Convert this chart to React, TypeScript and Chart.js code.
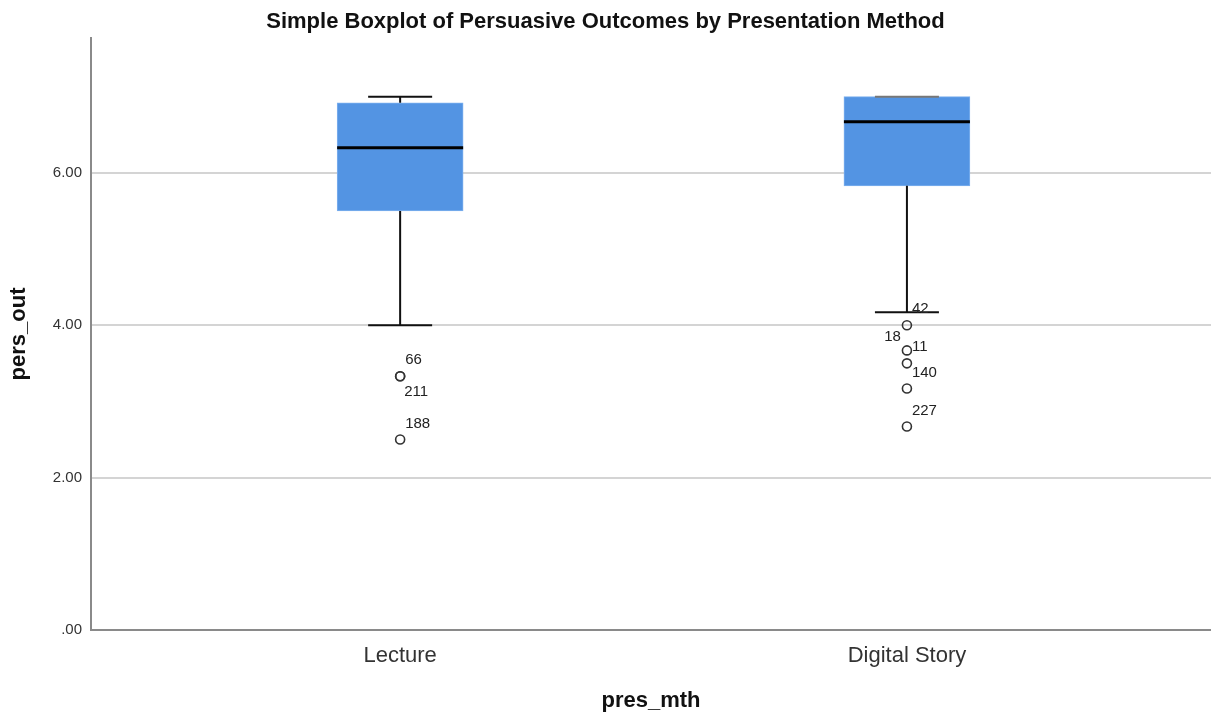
import React, { useEffect, useRef } from "react";
import Chart from "chart.js/auto";

// ---- data ----
const categories = ["Lecture", "Digital Story"];
const q1Values = [5.5, 5.83];
const q3Values = [6.92, 7.0];
const medianValues = [6.33, 6.67];
const whiskerLow = [4.0, 4.17];
const whiskerHigh = [7.0, 7.0];

const outlierCategory = [0, 0, 0, 1, 1, 1, 1, 1];
const outlierValues = [3.33, 3.33, 2.5, 4.0, 3.67, 3.5, 3.17, 2.67];
const outlierIds = ["66", "211", "188", "42", "18", "11", "140", "227"];
const outlierLabelSide = ["above", "below", "above", "above", "left", "above", "above", "above"];

const yTicks = [0, 2, 4, 6];
const yMax = 7.77;
const xMin = -0.61;
const xMax = 1.6;

const FONT = 'Arial, "Liberation Sans", sans-serif';
const BOX_PX = 126;

const boxPlugin = {
  id: "boxWhiskers",
  afterDatasetsDraw(chart: any) {
    const { ctx } = chart;
    const xs = chart.scales.x;
    const ys = chart.scales.y;
    ctx.save();
    categories.forEach((_, i) => {
      const cx = xs.getPixelForValue(i);
      const half = BOX_PX / 2;
      const capHalf = 32;
      const yQ1 = ys.getPixelForValue(q1Values[i]);
      const yQ3 = ys.getPixelForValue(q3Values[i]);
      const yLo = ys.getPixelForValue(whiskerLow[i]);
      const yHi = ys.getPixelForValue(whiskerHigh[i]);
      const yMed = ys.getPixelForValue(medianValues[i]);
      ctx.strokeStyle = "#111";
      ctx.lineWidth = 2;
      ctx.beginPath();
      ctx.moveTo(cx, yQ1);
      ctx.lineTo(cx, yLo);
      ctx.moveTo(cx - capHalf, yLo);
      ctx.lineTo(cx + capHalf, yLo);
      if (yHi < yQ3 - 0.5) {
        ctx.moveTo(cx, yQ3);
        ctx.lineTo(cx, yHi);
      }
      ctx.stroke();
      ctx.strokeStyle = yHi < yQ3 - 0.5 ? "#111" : "#777";
      ctx.beginPath();
      ctx.moveTo(cx - capHalf, yHi);
      ctx.lineTo(cx + capHalf, yHi);
      ctx.stroke();
      ctx.strokeStyle = "#000";
      ctx.lineWidth = 3;
      ctx.beginPath();
      ctx.moveTo(cx - half, yMed);
      ctx.lineTo(cx + half, yMed);
      ctx.stroke();
    });
    ctx.fillStyle = "#222";
    ctx.font = `15px ${FONT}`;
    ctx.textBaseline = "middle";
    outlierValues.forEach((v, i) => {
      const px = xs.getPixelForValue(outlierCategory[i]);
      const py = ys.getPixelForValue(v);
      const side = outlierLabelSide[i];
      if (side === "left") {
        ctx.textAlign = "right";
        ctx.fillText(outlierIds[i], px - 6, py - 14);
      } else if (side === "below") {
        ctx.textAlign = "left";
        ctx.fillText(outlierIds[i], px + 4, py + 16);
      } else {
        ctx.textAlign = "left";
        ctx.fillText(outlierIds[i], px + 5, py - 16);
      }
    });
    ctx.restore();
  },
};

export default function App() {
  const ref = useRef<HTMLCanvasElement | null>(null);
  useEffect(() => {
    if (!ref.current) return;
    const chart = new Chart(ref.current, {
      type: "bar",
      data: {
        datasets: [
          {
            type: "bar",
            data: categories.map((_, i) => ({ x: i, y: [q1Values[i], q3Values[i]] })) as any,
            backgroundColor: "#5394e3",
            borderColor: "#7db0ee",
            borderWidth: 1,
            borderSkipped: false,
            barThickness: BOX_PX,
          } as any,
          {
            type: "scatter",
            data: outlierValues.map((v, i) => ({ x: outlierCategory[i], y: v })),
            pointStyle: "circle",
            pointRadius: 4.5,
            pointBorderWidth: 1.6,
            pointBorderColor: "#333",
            pointBackgroundColor: "rgba(255,255,255,0)",
            showLine: false,
          } as any,
        ],
      },
      options: {
        animation: false,
        responsive: false,
        maintainAspectRatio: false,
        layout: { padding: 0, autoPadding: false },
        plugins: {
          legend: { display: false },
          tooltip: { enabled: false },
          title: {
            display: true,
            text: "Simple Boxplot of Persuasive Outcomes by Presentation Method",
            color: "#111",
            font: { family: FONT, size: 22, weight: "bold" },
            padding: { top: 9, bottom: 2.6 },
          },
        },
        scales: {
          x: {
            type: "linear",
            offset: false,
            min: xMin,
            max: xMax,
            afterBuildTicks: (s: any) => {
              s.ticks = categories.map((_, i) => ({ value: i }));
            },
            afterFit: (s: any) => {
              s.height = 87;
              s.paddingLeft = 0;
              s.paddingRight = 0;
            },
            grid: { display: false, drawTicks: false, offset: false },
            border: { display: true, color: "#8a8a8a", width: 2 },
            ticks: {
              padding: 13,
              color: "#333",
              font: { family: FONT, size: 22 },
              callback: (v: any) => categories[Math.round(Number(v))] ?? "",
              maxRotation: 0,
            },
            title: {
              display: true,
              text: "pres_mth",
              color: "#111",
              font: { family: FONT, size: 22, weight: "bold" },
              padding: { top: 0, bottom: 3 },
            },
          },
          y: {
            type: "linear",
            min: 0,
            max: yMax,
            afterBuildTicks: (s: any) => {
              s.ticks = yTicks.map((v) => ({ value: v }));
            },
            afterFit: (s: any) => {
              s.width = 91;
            },
            grid: { color: "#d4d4d4", lineWidth: 2, drawTicks: false },
            border: { display: true, color: "#8a8a8a", width: 2 },
            ticks: {
              padding: 9,
              color: "#333",
              font: { family: FONT, size: 15 },
              callback: (v: any) => (Number(v) === 0 ? ".00" : Number(v).toFixed(2)),
            },
            title: {
              display: true,
              text: "pers_out",
              color: "#111",
              font: { family: FONT, size: 22, weight: "bold" },
              padding: { top: 6, bottom: 0 },
            },
          },
        },
      },
      plugins: [boxPlugin],
    });
    return () => chart.destroy();
  }, []);
  return (
    <div style={{ position: "absolute", left: 0, top: 0, width: 1211, height: 717, background: "#fff" }}>
      <canvas ref={ref} width={1211} height={717} style={{ display: "block" }} />
    </div>
  );
}
